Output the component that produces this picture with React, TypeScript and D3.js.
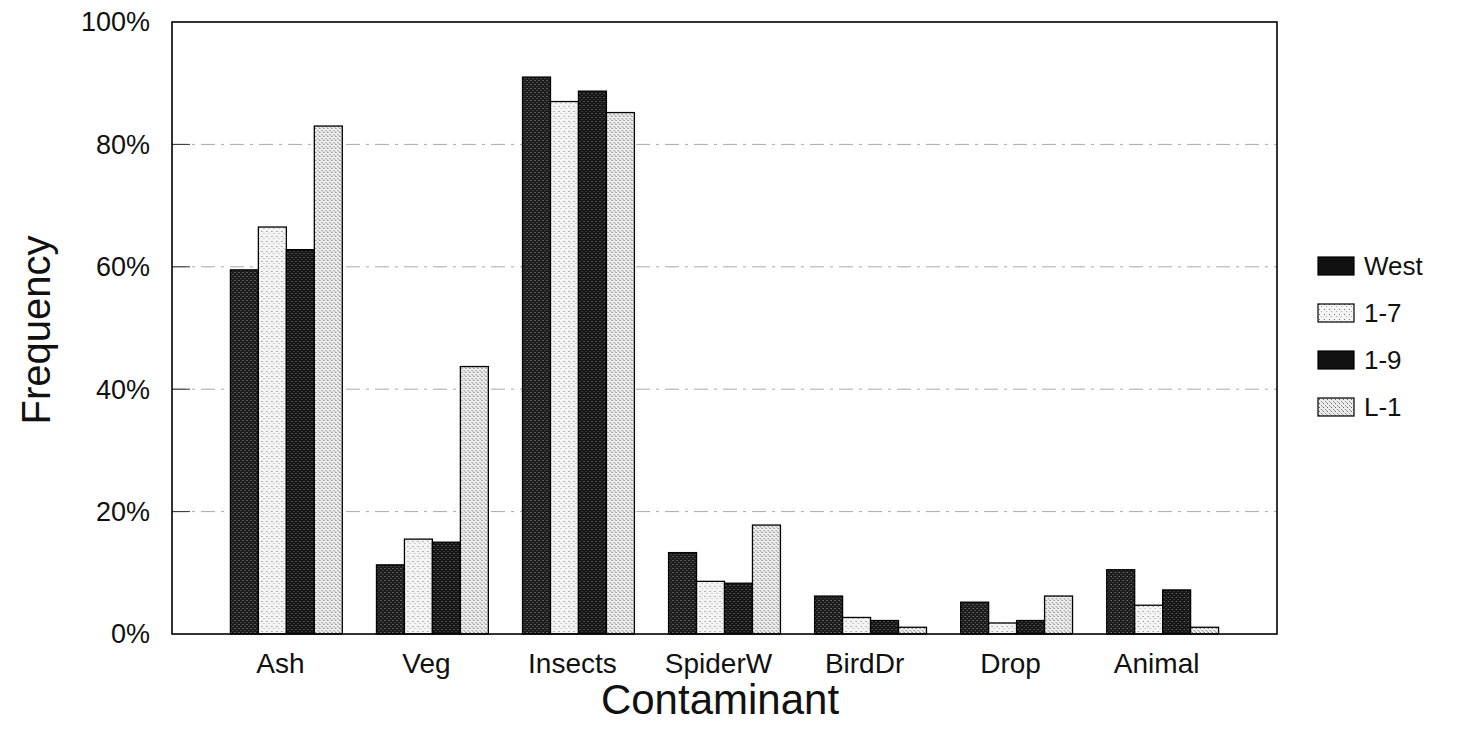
import React, { useEffect } from "react";
import * as d3 from "d3";

const categories = ["Ash", "Veg", "Insects", "SpiderW", "BirdDr", "Drop", "Animal"];
const seriesNames = ["West", "1-7", "1-9", "L-1"];
const westValues = [59.5, 11.3, 91.0, 13.3, 6.2, 5.2, 10.5];
const s17Values = [66.5, 15.5, 87.0, 8.6, 2.7, 1.8, 4.7];
const s19Values = [62.8, 15.0, 88.7, 8.3, 2.2, 2.2, 7.2];
const l1Values = [83.0, 43.7, 85.2, 17.8, 1.1, 6.2, 1.1];
const yTicks = [0, 20, 40, 60, 80, 100];

const seriesValues = [westValues, s17Values, s19Values, l1Values];
const patternIds = ["patWest", "pat17", "pat19", "patL1"];

const W = 1484;
const H = 739;
const plot = { left: 172, right: 1277, top: 22, bottom: 634 };
const FONT = "'Liberation Sans', Arial, Helvetica, sans-serif";

export default function App() {
  useEffect(() => {
    document.body.style.margin = "0";
  }, []);

  const x0 = d3
    .scaleBand<string>()
    .domain(categories)
    .range([plot.left, plot.right])
    .paddingInner(0.234)
    .paddingOuter(0.4);
  const x1 = d3
    .scaleBand<string>()
    .domain(seriesNames)
    .range([0, x0.bandwidth()]);
  const y = d3.scaleLinear().domain([0, 100]).range([plot.bottom, plot.top]);

  const legendY = d3.scalePoint<string>().domain(seriesNames).range([266, 407]);

  return (
    <svg width={W} height={H} style={{ display: "block", background: "#fff" }}>
      <defs>
        <pattern id="patWest" width="4" height="4" patternUnits="userSpaceOnUse">
          <rect width="4" height="4" fill="#1c1c1c" />
          <rect x="0" y="0" width="1" height="1" fill="#9a9a9a" />
          <rect x="2" y="2" width="1" height="1" fill="#6a6a6a" />
        </pattern>
        <pattern id="pat19" width="4" height="4" patternUnits="userSpaceOnUse">
          <rect width="4" height="4" fill="#161616" />
          <rect x="1" y="1" width="1" height="1" fill="#8a8a8a" />
          <rect x="3" y="3" width="1" height="1" fill="#5a5a5a" />
        </pattern>
        <pattern id="pat17" width="5" height="5" patternUnits="userSpaceOnUse">
          <rect width="5" height="5" fill="#f4f4f4" />
          <rect x="1" y="1" width="1" height="1" fill="#777" />
          <rect x="3" y="3" width="1" height="1" fill="#aaa" />
        </pattern>
        <pattern id="patL1" width="4" height="4" patternUnits="userSpaceOnUse">
          <rect width="4" height="4" fill="#ececec" />
          <rect x="1" y="0" width="1" height="1" fill="#666" />
          <rect x="3" y="2" width="1" height="1" fill="#888" />
          <rect x="0" y="3" width="1" height="1" fill="#aaa" />
        </pattern>
      </defs>

      {/* gridlines */}
      {yTicks
        .filter((t) => t > 0 && t < 100)
        .map((t) => (
          <g key={"g" + t}>
            <line
              x1={plot.left}
              x2={plot.right}
              y1={y(t)}
              y2={y(t)}
              stroke="#a8a8a8"
              strokeWidth={1}
              strokeDasharray="14,6,3,6"
            />
            <line
              x1={plot.left}
              x2={plot.left + 18}
              y1={y(t)}
              y2={y(t)}
              stroke="#333"
              strokeWidth={1}
            />
          </g>
        ))}

      {/* bars */}
      {categories.map((c, ci) => (
        <g key={c} transform={`translate(${x0(c)},0)`}>
          {seriesNames.map((s, si) => {
            const v = seriesValues[si][ci];
            return (
              <rect
                key={s}
                x={x1(s)}
                y={y(v)}
                width={x1.bandwidth()}
                height={y(0) - y(v)}
                fill={`url(#${patternIds[si]})`}
                stroke="#000"
                strokeWidth={1.3}
              />
            );
          })}
        </g>
      ))}

      {/* frame */}
      <rect
        x={plot.left}
        y={plot.top}
        width={plot.right - plot.left}
        height={plot.bottom - plot.top}
        fill="none"
        stroke="#000"
        strokeWidth={1.6}
      />

      {/* y tick labels */}
      {yTicks.map((t) => (
        <text
          key={"t" + t}
          x={150}
          y={y(t)}
          dy="0.35em"
          textAnchor="end"
          fontFamily={FONT}
          fontSize={27}
          fill="#111"
        >
          {t + "%"}
        </text>
      ))}

      {/* category labels */}
      {categories.map((c) => (
        <text
          key={"c" + c}
          x={(x0(c) as number) + x0.bandwidth() / 2 - 6}
          y={673}
          textAnchor="middle"
          fontFamily={FONT}
          fontSize={28}
          fill="#111"
        >
          {c}
        </text>
      ))}

      {/* axis titles */}
      <text
        x={720}
        y={714}
        textAnchor="middle"
        fontFamily={FONT}
        fontSize={42}
        fill="#111"
      >
        Contaminant
      </text>
      <text
        transform={`translate(50,330) rotate(-90)`}
        textAnchor="middle"
        fontFamily={FONT}
        fontSize={40}
        fill="#111"
      >
        Frequency
      </text>

      {/* legend */}
      {seriesNames.map((s, si) => (
        <g key={"l" + s} transform={`translate(1318,${legendY(s)})`}>
          <rect
            x={0}
            y={-9}
            width={36}
            height={18}
            fill={si === 0 || si === 2 ? "#111" : `url(#${patternIds[si]})`}
            stroke="#000"
            strokeWidth={1.2}
          />
          <text
            x={46}
            y={0}
            dy="0.35em"
            fontFamily={FONT}
            fontSize={26}
            fill="#111"
          >
            {s}
          </text>
        </g>
      ))}
    </svg>
  );
}
